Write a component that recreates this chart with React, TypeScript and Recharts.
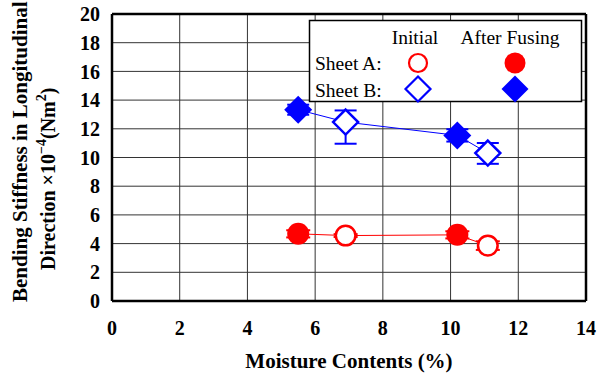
import { ComposedChart, Scatter, XAxis, YAxis, CartesianGrid, ErrorBar, ReferenceLine } from 'recharts';

const X_TICKS = [0, 2, 4, 6, 8, 10, 12, 14];
const Y_TICKS = [0, 2, 4, 6, 8, 10, 12, 14, 16, 18, 20];

// Sheet A
const A_INITIAL_X = [6.9, 11.1];
const A_INITIAL_Y = [4.56, 3.86];
const A_INITIAL_ERR = [0.1, 0.3];
const A_FUSED_X = [5.5, 10.2];
const A_FUSED_Y = [4.68, 4.61];
const A_FUSED_ERR = [0.25, 0.25];

// Sheet B
const B_INITIAL_X = [6.9, 11.1];
const B_INITIAL_Y = [12.47, 10.31];
const B_INITIAL_ERR: [number, number][] = [[1.51, 0.81], [0.75, 0.7]];
const B_FUSED_X = [5.5, 10.2];
const B_FUSED_Y = [13.33, 11.54];
const B_FUSED_ERR = [0.35, 0.43];

const RED = '#ff0000';
const BLUE = '#0000ff';
const FONT = '"Liberation Serif", "Times New Roman", serif';

const toPoints = (xs: number[], ys: number[], errs: (number | [number, number])[]) =>
  xs.map((x, i) => ({ x, y: ys[i], err: errs[i] }));

const aInitial = toPoints(A_INITIAL_X, A_INITIAL_Y, A_INITIAL_ERR);
const aFused = toPoints(A_FUSED_X, A_FUSED_Y, A_FUSED_ERR);
const bInitial = toPoints(B_INITIAL_X, B_INITIAL_Y, B_INITIAL_ERR);
const bFused = toPoints(B_FUSED_X, B_FUSED_Y, B_FUSED_ERR);

// joined lines run through every point of a sheet, by moisture content
const aLine = [...aInitial, ...aFused].sort((p, q) => p.x - q.x);
const bLine = [...bInitial, ...bFused].sort((p, q) => p.x - q.x);

const Nothing = () => <g />;

const OpenCircle = (props: any) => (
  <circle cx={props.cx} cy={props.cy} r={9.8} fill="#fff" stroke={RED} strokeWidth={2.5} />
);
const FilledCircle = (props: any) => <circle cx={props.cx} cy={props.cy} r={11} fill={RED} />;

const diamond = (cx: number, cy: number, h: number) =>
  `M${cx},${cy - h}L${cx + h},${cy}L${cx},${cy + h}L${cx - h},${cy}Z`;

const OpenDiamond = (props: any) => (
  <path d={diamond(props.cx, props.cy, 12.5)} fill="#fff" stroke={BLUE} strokeWidth={2.5} />
);
const FilledDiamond = (props: any) => <path d={diamond(props.cx, props.cy, 14)} fill={BLUE} />;

const YLabel = () => (
  <g fontFamily={FONT} fontWeight="bold" fontSize={21} fill="#000">
    <text x={27} y={302} transform="rotate(-90, 27, 302)" textAnchor="start">
      Bending Stiffness in Longitudinal
    </text>
    <text x={55} y={270} transform="rotate(-90, 55, 270)" textAnchor="start" fontSize={20}>
      Direction ×10
      <tspan fontSize={14} dy={-9}>−4</tspan>
      <tspan fontSize={20} dy={9}>(Nm</tspan>
      <tspan fontSize={14} dy={-9}>2</tspan>
      <tspan fontSize={20} dy={9}>)</tspan>
    </text>
  </g>
);

const XLabel = () => (
  <text x={349} y={368} textAnchor="middle" fontFamily={FONT} fontWeight="bold" fontSize={21} fill="#000">
    Moisture Contents (%)
  </text>
);

function LegendBox() {
  return (
    <svg width={605} height={377} style={{ position: 'absolute', left: 0, top: 0, pointerEvents: 'none' }}>
      <rect x={309.5} y={20.5} width={272} height={81} fill="#fff" stroke="#000" strokeWidth={1.5} />
      <g fontFamily={FONT} fontSize={19.5} fill="#000">
        <text x={415} y={44} textAnchor="middle">Initial</text>
        <text x={510} y={44} textAnchor="middle">After Fusing</text>
        <text x={315} y={70}>Sheet A:</text>
        <text x={315} y={97}>Sheet B:</text>
      </g>
      <circle cx={418} cy={63} r={9} fill="#fff" stroke={RED} strokeWidth={2.2} />
      <circle cx={515} cy={63} r={10.5} fill={RED} />
      <path d={diamond(418, 89, 12.5)} fill="#fff" stroke={BLUE} strokeWidth={2.2} />
      <path d={diamond(515, 89, 13.5)} fill={BLUE} />
    </svg>
  );
}

const tickStyle = { fontFamily: FONT, fontWeight: 'bold', fontSize: 20, fill: '#000' };

export default function App() {
  return (
    <div style={{ position: 'absolute', left: 0, top: 0, width: 605, height: 377, background: '#fff' }}>
      <ComposedChart width={605} height={377} margin={{ top: 14, right: 19, bottom: 0, left: 0 }}>
        <CartesianGrid stroke="#333" strokeWidth={1} />
        <XAxis
          type="number"
          dataKey="x"
          domain={[0, 14]}
          ticks={X_TICKS}
          height={76}
          tickLine={false}
          tickSize={6}
          tickMargin={14}
          axisLine={{ stroke: '#000', strokeWidth: 2.5 }}
          tick={tickStyle}
          label={<XLabel />}
        />
        <YAxis
          type="number"
          dataKey="y"
          domain={[0, 20]}
          ticks={Y_TICKS}
          width={112}
          tickLine={false}
          tickSize={6}
          tickMargin={6}
          axisLine={{ stroke: '#000', strokeWidth: 2.5 }}
          tick={tickStyle}
          label={<YLabel />}
        />
        <ReferenceLine y={20} stroke="#000" strokeWidth={2.5} />
        <ReferenceLine x={14} stroke="#000" strokeWidth={2.5} />

        <Scatter data={aLine} line={{ stroke: RED, strokeWidth: 1 }} shape={<Nothing />} isAnimationActive={false} />
        <Scatter data={bLine} line={{ stroke: BLUE, strokeWidth: 1 }} shape={<Nothing />} isAnimationActive={false} />

        <Scatter data={aFused} shape={<FilledCircle />} isAnimationActive={false}>
          <ErrorBar dataKey="err" direction="y" width={12} stroke={RED} strokeWidth={2} isAnimationActive={false} />
        </Scatter>
        <Scatter data={aInitial} shape={<OpenCircle />} isAnimationActive={false}>
          <ErrorBar dataKey="err" direction="y" width={12} stroke={RED} strokeWidth={2} isAnimationActive={false} />
        </Scatter>
        <Scatter data={bFused} shape={<FilledDiamond />} isAnimationActive={false}>
          <ErrorBar dataKey="err" direction="y" width={11} stroke={BLUE} strokeWidth={2} isAnimationActive={false} />
        </Scatter>
        <Scatter data={bInitial} shape={<OpenDiamond />} isAnimationActive={false}>
          <ErrorBar dataKey="err" direction="y" width={11} stroke={BLUE} strokeWidth={2} isAnimationActive={false} />
        </Scatter>
      </ComposedChart>
      <LegendBox />
    </div>
  );
}
